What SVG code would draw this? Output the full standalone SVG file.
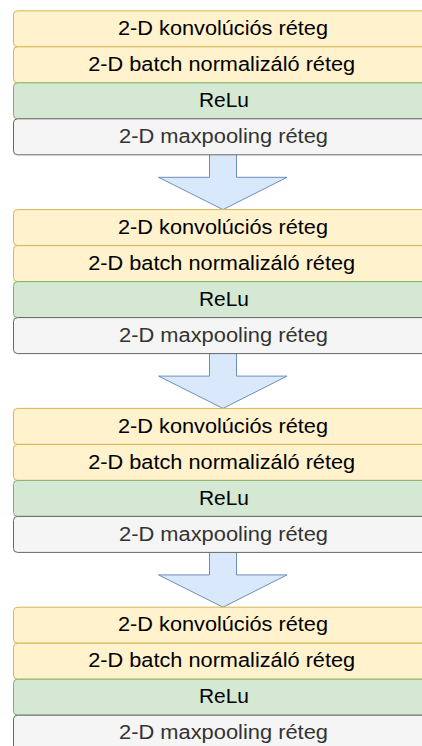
<svg xmlns="http://www.w3.org/2000/svg" width="422" height="746" viewBox="0 0 422 746">
<style>
.conv{fill:#fff2cc;stroke:#d6b656;stroke-width:1}
.relu{fill:#d5e8d4;stroke:#82b366;stroke-width:1}
.pool{fill:#f5f5f5;stroke:#666666;stroke-width:1}
.arr{fill:#dae8fc;stroke:#6c8ebf;stroke-width:1}
text{font-family:"Liberation Sans",Arial,sans-serif;font-size:19.5px;text-anchor:middle;fill:#000}
.gt{fill:#333333}
</style>
<defs>
<polygon id="arrow" class="arr" points="209.5,140 236.5,140 236.5,166.5 287,166.5 223,198.8 158.5,166.5 209.5,166.5"/>
</defs>
<rect width="422" height="746" fill="#ffffff"/>
<g id="connectors">
<use href="#arrow" transform="translate(0,10.8)"/>
<use href="#arrow" transform="translate(0,209.6)"/>
<use href="#arrow" transform="translate(0,408.4)"/>
</g>
<g transform="translate(0,10.8)">
<g id="conv1"><rect class="conv" x="13.5" y="0" width="419" height="36" rx="4"/><text x="223" y="24.3" textLength="210" lengthAdjust="spacingAndGlyphs">2-D konvolúciós réteg</text></g>
<g id="bn1"><rect class="conv" x="13.5" y="36" width="419" height="36" rx="4"/><text x="221.7" y="60.3" textLength="267" lengthAdjust="spacingAndGlyphs">2-D batch normalizáló réteg</text></g>
<g id="relu1"><rect class="relu" x="13.5" y="72" width="419" height="36" rx="4"/><text x="224" y="96.3" textLength="50" lengthAdjust="spacingAndGlyphs">ReLu</text></g>
<g id="pool1"><rect class="pool" x="13.5" y="108" width="419" height="36" rx="4"/><text class="gt" x="223.5" y="132.3" textLength="209" lengthAdjust="spacingAndGlyphs">2-D maxpooling réteg</text></g>
</g>
<g transform="translate(0,209.6)">
<g id="conv2"><rect class="conv" x="13.5" y="0" width="419" height="36" rx="4"/><text x="223" y="24.3" textLength="210" lengthAdjust="spacingAndGlyphs">2-D konvolúciós réteg</text></g>
<g id="bn2"><rect class="conv" x="13.5" y="36" width="419" height="36" rx="4"/><text x="221.7" y="60.3" textLength="267" lengthAdjust="spacingAndGlyphs">2-D batch normalizáló réteg</text></g>
<g id="relu2"><rect class="relu" x="13.5" y="72" width="419" height="36" rx="4"/><text x="224" y="96.3" textLength="50" lengthAdjust="spacingAndGlyphs">ReLu</text></g>
<g id="pool2"><rect class="pool" x="13.5" y="108" width="419" height="36" rx="4"/><text class="gt" x="223.5" y="132.3" textLength="209" lengthAdjust="spacingAndGlyphs">2-D maxpooling réteg</text></g>
</g>
<g transform="translate(0,408.4)">
<g id="conv3"><rect class="conv" x="13.5" y="0" width="419" height="36" rx="4"/><text x="223" y="24.3" textLength="210" lengthAdjust="spacingAndGlyphs">2-D konvolúciós réteg</text></g>
<g id="bn3"><rect class="conv" x="13.5" y="36" width="419" height="36" rx="4"/><text x="221.7" y="60.3" textLength="267" lengthAdjust="spacingAndGlyphs">2-D batch normalizáló réteg</text></g>
<g id="relu3"><rect class="relu" x="13.5" y="72" width="419" height="36" rx="4"/><text x="224" y="96.3" textLength="50" lengthAdjust="spacingAndGlyphs">ReLu</text></g>
<g id="pool3"><rect class="pool" x="13.5" y="108" width="419" height="36" rx="4"/><text class="gt" x="223.5" y="132.3" textLength="209" lengthAdjust="spacingAndGlyphs">2-D maxpooling réteg</text></g>
</g>
<g transform="translate(0,607.2)">
<g id="conv4"><rect class="conv" x="13.5" y="0" width="419" height="36" rx="4"/><text x="223" y="24.3" textLength="210" lengthAdjust="spacingAndGlyphs">2-D konvolúciós réteg</text></g>
<g id="bn4"><rect class="conv" x="13.5" y="36" width="419" height="36" rx="4"/><text x="221.7" y="60.3" textLength="267" lengthAdjust="spacingAndGlyphs">2-D batch normalizáló réteg</text></g>
<g id="relu4"><rect class="relu" x="13.5" y="72" width="419" height="36" rx="4"/><text x="224" y="96.3" textLength="50" lengthAdjust="spacingAndGlyphs">ReLu</text></g>
<g id="pool4"><rect class="pool" x="13.5" y="108" width="419" height="36" rx="4"/><text class="gt" x="223.5" y="132.3" textLength="209" lengthAdjust="spacingAndGlyphs">2-D maxpooling réteg</text></g>
</g>
</svg>
